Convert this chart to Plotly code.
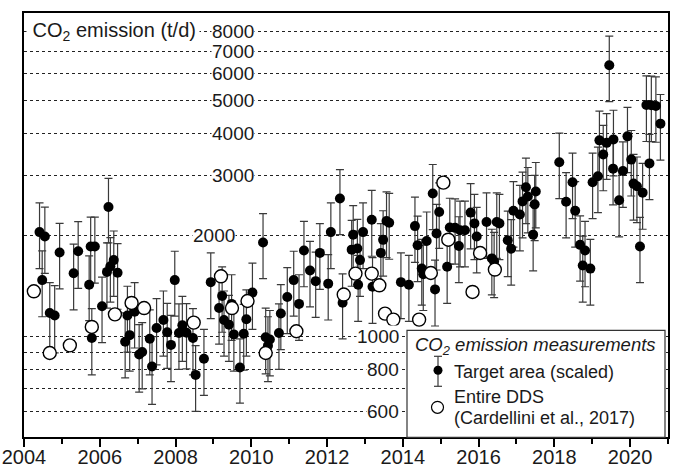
import math
import plotly.graph_objects as go

# ---- data: target area (scaled), black dots with error bars ----
target_year = [2004.41, 2004.48, 2004.55, 2004.68, 2004.81, 2004.94, 2005.31, 2005.43, 2005.72, 2005.76,
               2005.79, 2005.87, 2006.06, 2006.19, 2006.23, 2006.28, 2006.37, 2006.47, 2006.67, 2006.73,
               2006.79, 2006.92, 2007.04, 2007.12, 2007.32, 2007.38, 2007.50, 2007.68, 2007.78, 2007.88,
               2007.98, 2008.09, 2008.18, 2008.29, 2008.46, 2008.53, 2008.75, 2008.93, 2009.15, 2009.23,
               2009.28, 2009.41, 2009.48, 2009.54, 2009.70, 2009.80, 2009.87, 2010.03, 2010.31, 2010.38,
               2010.44, 2010.49, 2010.73, 2010.78, 2010.95, 2011.12, 2011.26, 2011.39, 2011.55, 2011.70,
               2011.81, 2012.03, 2012.10, 2012.34, 2012.41, 2012.65, 2012.69, 2012.80, 2012.82, 2012.87,
               2012.95, 2013.18, 2013.20, 2013.42, 2013.48, 2013.57, 2013.64, 2013.95, 2014.16, 2014.32,
               2014.39, 2014.50, 2014.54, 2014.63, 2014.79, 2014.85, 2014.89, 2014.96, 2015.17, 2015.24,
               2015.38, 2015.48, 2015.51, 2015.64, 2015.79, 2015.89, 2015.95, 2016.21, 2016.35, 2016.41,
               2016.48, 2016.55, 2016.77, 2016.86, 2016.92, 2017.09, 2017.16, 2017.25, 2017.30, 2017.44,
               2017.48, 2017.51, 2018.13, 2018.31, 2018.48, 2018.55, 2018.68, 2018.75, 2018.81, 2018.95,
               2019.01, 2019.15, 2019.19, 2019.29, 2019.38, 2019.45, 2019.55, 2019.56, 2019.71, 2019.81,
               2019.93, 2020.03, 2020.09, 2020.18, 2020.26, 2020.33, 2020.43, 2020.51, 2020.56, 2020.68,
               2020.80]
target_value = [2040, 1470, 1980, 1175, 1155, 1775, 1540, 1790, 1425, 1850,
                990, 1850, 1230, 1555, 2420, 1615, 1685, 1545, 965, 1155,
                1010, 1185, 885, 900, 985, 815, 1060, 1120, 1030, 945,
                1470, 1025, 1080, 1027, 990, 770, 860, 1450, 1215, 1320,
                1120, 1085, 1250, 1015, 810, 1020, 1125, 1350, 1900, 995,
                940, 980, 1025, 1170, 1310, 1470, 1250, 1800, 1570, 1460,
                1770, 1435, 2040, 2565, 1260, 1810, 2005, 1825, 1425, 1685,
                2040, 2220, 1405, 1770, 1935, 2200, 2175, 1450, 1425, 2125,
                1865, 1590, 1530, 1920, 2655, 1380, 2020, 2340, 1610, 2105,
                2100, 1855, 2065, 2065, 2330, 2165, 1980, 2185, 1705, 1670,
                2185, 2165, 1930, 1820, 2360, 2300, 2515, 2770, 2600, 2005,
                2465, 2690, 3285, 2510, 2865, 2360, 1870, 1625, 1800, 1590,
                2865, 2985, 3815, 3465, 3750, 6370, 3145, 3840, 2535, 3095,
                3920, 3345, 2840, 2790, 1850, 2670, 4855, 3260, 4845, 4825,
                4275]
target_err = [450, 325, 440, 270, 260, 390, 340, 400, 310, 410,
              220, 410, 270, 340, 525, 350, 370, 340, 210, 255,
              220, 260, 200, 200, 215, 185, 235, 245, 225, 210,
              320, 225, 235, 225, 220, 170, 190, 320, 265, 290,
              245, 240, 275, 225, 175, 225, 250, 300, 415, 220,
              205, 215, 225, 255, 290, 320, 275, 395, 345, 320,
              390, 315, 450, 560, 275, 400, 440, 400, 315, 370,
              450, 490, 310, 390, 425, 485, 480, 320, 315, 465,
              410, 350, 335, 420, 580, 305, 445, 515, 355, 465,
              460, 410, 455, 455, 510, 475, 435, 480, 375, 365,
              480, 475, 425, 400, 520, 505, 555, 610, 570, 440,
              540, 590, 720, 550, 630, 520, 410, 360, 395, 350,
              630, 655, 840, 760, 825, 1400, 690, 845, 560, 680,
              860, 735, 625, 615, 405, 590, 1070, 715, 1065, 1060,
              940]

# ---- data: entire DDS (Cardellini et al., 2017), open circles ----
dds_year = [2004.26, 2004.68, 2005.21, 2005.79, 2006.40, 2006.84, 2007.17, 2008.48, 2009.20, 2009.49,
            2009.90, 2010.38, 2011.19, 2012.44, 2012.75, 2013.18, 2013.38, 2013.53, 2013.75, 2014.43,
            2014.74, 2015.07, 2015.20, 2015.84, 2016.04, 2016.43]
dds_value = [1362, 894, 942, 1068, 1164, 1258, 1215, 1100, 1509, 1215,
             1275, 894, 1037, 1332, 1537, 1537, 1419, 1170, 1123, 1123,
             1543, 2858, 1937, 1356, 1769, 1580]

# ---- axis values / labels ----
grid_values = [600, 700, 800, 900, 1000, 2000, 3000, 4000, 5000, 6000, 7000, 8000]
label_values = [600, 800, 1000, 2000, 3000, 4000, 5000, 6000, 7000, 8000]
label_texts = ["600", "800", "1000", "2000", "3000", "4000", "5000", "6000", "7000", "8000"]
x_tick_vals = [2004, 2006, 2008, 2010, 2012, 2014, 2016, 2018, 2020]
x_tick_text = ["2004", "2006", "2008", "2010", "2012", "2014", "2016", "2018", "2020"]
legend_title = "<i>CO<sub>2</sub> emission measurements</i>"
series_names = ["Target area (scaled)", "Entire DDS", "(Cardellini et al., 2017)"]

FONT = "Liberation Sans, Arial, sans-serif"
TXT = "#1a1a1a"

# plot area in pixels: x 24..668, y 12.7..436.7
PL, PR, PT, PB = 24.0, 668.0, 12.7, 436.7
def pxx(px):
    return (px - PL) / (PR - PL)
def pxy(py):
    return (PB - py) / (PB - PT)

fig = go.Figure()
fig.add_trace(go.Scatter(
    x=target_year, y=target_value, mode="markers",
    name=series_names[0], showlegend=False,
    marker=dict(color="black", size=10, line=dict(width=0)),
    error_y=dict(type="data", array=target_err, visible=True,
                 color="#3a3a3a", thickness=1.2, width=4),
))
fig.add_trace(go.Scatter(
    x=dds_year, y=dds_value, mode="markers",
    name=series_names[1] + " " + series_names[2], showlegend=False,
    marker=dict(color="white", size=13, line=dict(color="black", width=1.4)),
))

label_right = {8000: 255, 7000: 255, 6000: 255, 5000: 255, 4000: 255, 3000: 255,
               2000: 236, 1000: 400, 800: 400, 600: 400}

annotations = []
for v, t in zip(label_values, label_texts):
    annotations.append(dict(
        x=pxx(label_right[v]), xref="paper", xanchor="right",
        y=math.log10(v), yref="y", yanchor="middle",
        text=t, showarrow=False, bgcolor="white", borderpad=0,
        font=dict(family=FONT, size=19, color=TXT),
    ))
annotations.append(dict(
    x=pxx(26), xref="paper", xanchor="left",
    y=math.log10(8000), yref="y", yanchor="middle",
    text="&nbsp;CO<sub>2</sub> emission (t/d)", showarrow=False,
    bgcolor="white", borderpad=0, width=172, align="left",
    font=dict(family=FONT, size=20, color=TXT),
))

# ---- legend (box, keys, texts) ----
shapes = [
    dict(type="rect", xref="paper", yref="paper", layer="above",
         x0=pxx(407), x1=pxx(665), y0=pxy(437), y1=pxy(330),
         fillcolor="white", line=dict(color="#333", width=1.2)),
    # error-bar key
    dict(type="line", xref="paper", yref="paper", layer="above",
         x0=pxx(438), x1=pxx(438), y0=pxy(386), y1=pxy(356),
         line=dict(color="#3a3a3a", width=1.2)),
    dict(type="line", xref="paper", yref="paper", layer="above",
         x0=pxx(434), x1=pxx(442), y0=pxy(356), y1=pxy(356),
         line=dict(color="#3a3a3a", width=1.2)),
    dict(type="line", xref="paper", yref="paper", layer="above",
         x0=pxx(434), x1=pxx(442), y0=pxy(386), y1=pxy(386),
         line=dict(color="#3a3a3a", width=1.2)),
    dict(type="circle", xref="paper", yref="paper", layer="above",
         x0=pxx(433.5), x1=pxx(442.5), y0=pxy(374.5), y1=pxy(365.5),
         fillcolor="black", line=dict(color="black", width=0)),
    dict(type="circle", xref="paper", yref="paper", layer="above",
         x0=pxx(431.5), x1=pxx(443.5), y0=pxy(413), y1=pxy(401),
         fillcolor="white", line=dict(color="black", width=1.2)),
]
legend_texts = [
    (legend_title, 414, 346, 18.5),
    (series_names[0], 453, 372, 18),
    (series_names[1], 453, 397, 18),
    (series_names[2], 453, 418, 18),
]
for t, lx, ly, fs in legend_texts:
    annotations.append(dict(
        x=pxx(lx), xref="paper", xanchor="left",
        y=pxy(ly), yref="paper", yanchor="middle",
        text=t, showarrow=False, borderpad=0,
        font=dict(family=FONT, size=fs, color=TXT),
    ))

fig.update_layout(
    width=676, height=468,
    margin=dict(l=24, r=8, t=13, b=31, autoexpand=False),
    paper_bgcolor="white", plot_bgcolor="white",
    font=dict(family=FONT, size=18, color=TXT),
    showlegend=False,
    annotations=annotations,
    shapes=shapes,
)
fig.update_xaxes(
    range=[2004, 2021], tickvals=x_tick_vals, ticktext=x_tick_text,
    ticks="outside", ticklen=8, tickwidth=1.5, tickcolor="black",
    tickfont=dict(family=FONT, size=20, color=TXT),
    ticklabelstandoff=-7,
    showgrid=False, zeroline=False, automargin=False,
    showline=True, linecolor="black", linewidth=1.5, mirror=True,
    minor=dict(dtick=1, tick0=2005, ticks="outside", ticklen=5, tickwidth=1.5,
               tickcolor="black", showgrid=False),
)
fig.update_yaxes(
    type="log", range=[2.7025, 3.9588],
    tickvals=grid_values, showticklabels=False, ticks="",
    showgrid=True, gridcolor="#222", gridwidth=1, griddash="3px,3px",
    zeroline=False, automargin=False,
    showline=True, linecolor="black", linewidth=1.5, mirror=True,
)

fig.write_html("out.html")
